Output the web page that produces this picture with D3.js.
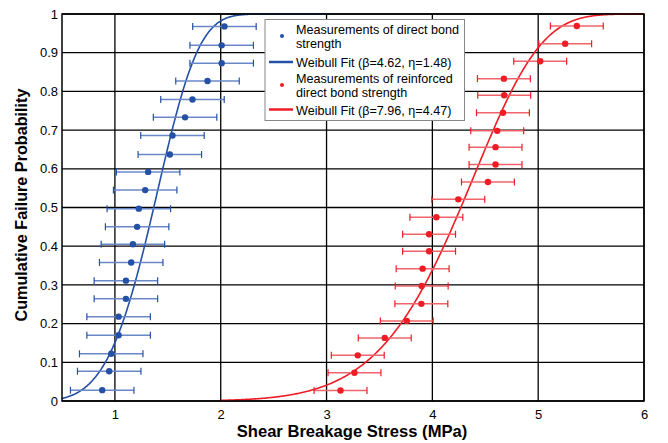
<!DOCTYPE html>
<html><head><meta charset="utf-8">
<script src="https://cdn.jsdelivr.net/npm/d3@7"></script>
<style>body{margin:0;background:#fff}svg{display:block;font-family:"Liberation Sans",Arial,sans-serif}</style>
</head><body><svg id="c" width="668" height="443"></svg>
<script>
// Data
const blueX = [0.880,0.946,0.965,1.035,1.035,1.104,1.104,1.154,1.170,1.210,1.226,1.286,1.314,1.519,1.544,1.663,1.733,1.875,2.009,2.009,2.035];
const blueY = [0.028,0.077,0.122,0.170,0.218,0.264,0.311,0.358,0.405,0.450,0.497,0.545,0.592,0.637,0.686,0.733,0.779,0.827,0.873,0.919,0.968];
const blueErr = 0.30;
const redX = [3.132,3.264,3.295,3.550,3.758,3.896,3.899,3.908,3.969,3.969,4.038,4.245,4.525,4.597,4.597,4.613,4.667,4.679,4.676,5.019,5.255,5.365];
const redY = [0.027,0.073,0.118,0.163,0.207,0.251,0.297,0.342,0.387,0.431,0.475,0.521,0.566,0.611,0.656,0.698,0.745,0.790,0.833,0.878,0.923,0.969];
const redErr = 0.25;
const fitParams = [{beta:4.62, eta:1.48, from:0.5, to:3.0}, {beta:7.96, eta:4.47, from:2.0, to:6.0}];
const xTicks = [1,2,3,4,5,6];
const yTicks = [0,0.1,0.2,0.3,0.4,0.5,0.6,0.7,0.8,0.9,1];
const legendLabels = [["Measurements of direct bond","strength"],["Weibull Fit (\u03B2=4.62, \u03B7=1.48)"],["Measurements of reinforced","direct bond strength"],["Weibull Fit (\u03B2=7.96, \u03B7=4.47)"]];

const BLUE = "#2450a6", BLUE_L = "#6a88c8", RED = "#ee1c25", RED_L = "#f0646a";
const svg = d3.select("#c");
const L = 62, R = 644, T = 14, B = 401;
const x = d3.scaleLinear().domain([0.5,6]).range([L,R]);
const y = d3.scaleLinear().domain([0,1]).range([B,T]);

// grid
const g = svg.append("g");
g.selectAll(".hg").data(yTicks).join("line")
  .attr("x1",L).attr("x2",R).attr("y1",d=>y(d)).attr("y2",d=>y(d))
  .attr("stroke","#000").attr("stroke-width",1.3);
g.selectAll(".vg").data(xTicks).join("line")
  .attr("x1",d=>x(d)).attr("x2",d=>x(d)).attr("y1",T).attr("y2",B)
  .attr("stroke","#000").attr("stroke-width",1.3);

// fit curves
const colors = [BLUE, RED];
fitParams.forEach((p,i)=>{
  const pts = d3.range(0,401).map(k=>{const xv = p.from + (p.to-p.from)*k/400; return [xv, 1-Math.exp(-Math.pow(xv/p.eta,p.beta))];});
  svg.append("path").datum(pts)
    .attr("d", d3.line().x(d=>x(d[0])).y(d=>y(d[1])))
    .attr("fill","none").attr("stroke",colors[i]).attr("stroke-width",1.6);
});

// error bars + points
function series(xs, ys, err, col, colL){
  const data = xs.map((v,i)=>({x:v,y:ys[i]}));
  const gg = svg.append("g");
  gg.selectAll(".eb").data(data).join("line")
    .attr("x1",d=>x(d.x-err)).attr("x2",d=>x(d.x+err)).attr("y1",d=>y(d.y)).attr("y2",d=>y(d.y))
    .attr("stroke",colL).attr("stroke-width",1.5);
  [-1,1].forEach(s=>{
    gg.selectAll(".cap"+s).data(data).join("line")
      .attr("x1",d=>x(d.x+s*err)).attr("x2",d=>x(d.x+s*err)).attr("y1",d=>y(d.y)-3.5).attr("y2",d=>y(d.y)+3.5)
      .attr("stroke",col).attr("stroke-width",1.2);
  });
  gg.selectAll("circle").data(data).join("circle")
    .attr("cx",d=>x(d.x)).attr("cy",d=>y(d.y)).attr("r",3.2).attr("fill",col);
}
series(blueX, blueY, blueErr, BLUE, BLUE_L);
series(redX, redY, redErr, RED, RED_L);

// frame
svg.append("rect").attr("x",L).attr("y",T).attr("width",R-L).attr("height",B-T)
  .attr("fill","none").attr("stroke","#000").attr("stroke-width",1.5);

// axes labels
const xa = svg.append("g").attr("transform",`translate(0,${B})`)
  .call(d3.axisBottom(x).tickValues(xTicks).tickSize(0).tickPadding(9).tickFormat(d3.format("d")));
xa.select(".domain").remove();
xa.selectAll("text").attr("font-size",13).attr("fill","#000").attr("font-family","Liberation Sans, Arial, sans-serif");
const ya = svg.append("g").attr("transform",`translate(${L},0)`)
  .call(d3.axisLeft(y).tickValues(yTicks).tickSize(0).tickPadding(4).tickFormat(d=>d===0?"0":d===1?"1":d3.format(".1f")(d)));
ya.select(".domain").remove();
ya.selectAll("text").attr("font-size",13).attr("fill","#000").attr("font-family","Liberation Sans, Arial, sans-serif");

svg.append("text").attr("x",352).attr("y",437).attr("text-anchor","middle")
  .attr("font-size",16.6).attr("font-weight","bold").text("Shear Breakage Stress (MPa)");
svg.append("text").attr("transform",`translate(27,205) rotate(-90)`).attr("text-anchor","middle")
  .attr("font-size",16.2).attr("font-weight","bold").text("Cumulative Failure Probability");

// legend
const lg = svg.append("g");
lg.append("rect").attr("x",265).attr("y",19.5).attr("width",199.5).attr("height",101)
  .attr("fill","#fff").attr("stroke","#888").attr("stroke-width",1);
const lineYs = [[29.5,44],[62.3],[78.3,92.7],[110.3]];
legendLabels.forEach((lines,i)=>{
  lines.forEach((t,j)=>{
    lg.append("text").attr("x",296).attr("y",lineYs[i][j]).attr("dy","0.35em")
      .attr("font-size",12.6).attr("fill","#000").text(t);
  });
});
lg.append("circle").attr("cx",282).attr("cy",36).attr("r",2).attr("fill",BLUE);
lg.append("line").attr("x1",269).attr("x2",293).attr("y1",62).attr("y2",62).attr("stroke",BLUE).attr("stroke-width",2.5);
lg.append("circle").attr("cx",282).attr("cy",85).attr("r",2).attr("fill",RED);
lg.append("line").attr("x1",269).attr("x2",293).attr("y1",109.5).attr("y2",109.5).attr("stroke",RED).attr("stroke-width",2.5);
</script></body></html>
